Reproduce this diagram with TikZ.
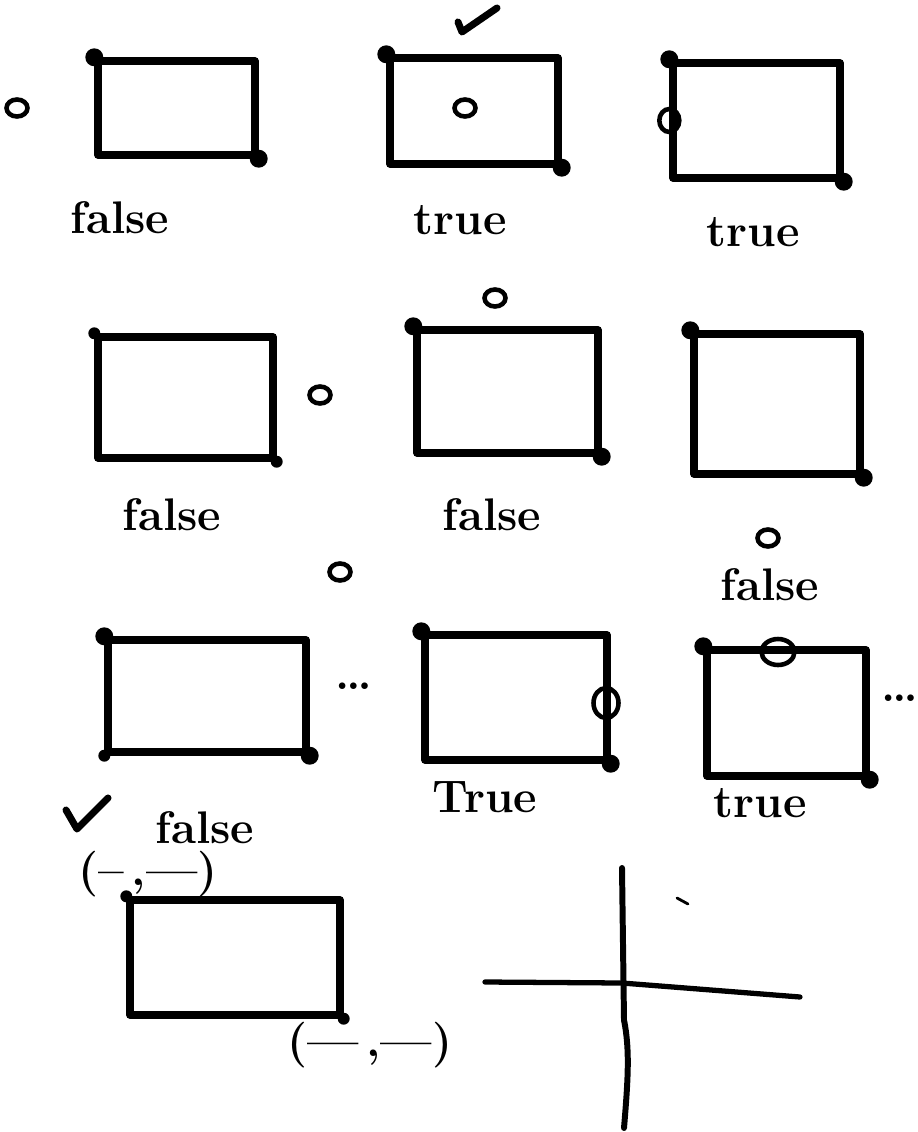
\documentclass[tikz,border=0pt]{standalone}
\usepackage{tikz}
\usetikzlibrary{
    positioning,
    fit,
    shapes.geometric
}

\begin{document}
\begin{tikzpicture}[
      x=0.02cm, y=-0.02cm,
      frame/.style={draw, line width=4.2pt, inner sep=0pt, line join=round},
      corner/.style={circle, fill, inner sep=0pt, minimum size=0.36cm},
      smallcorner/.style={corner, minimum size=0.24cm},
      pin/.style={ellipse, draw, line width=2.6pt, inner sep=0pt, minimum width=0.42cm, minimum height=0.34cm},
      hand/.style={font=\fontsize{26}{28}\selectfont\bfseries, inner sep=0pt},
      stroke/.style={line width=4pt, line cap=round, line join=round}
    ]
    \useasboundingbox (0,0) rectangle (918,1132);

    \node[frame, fit={(98,61)(255,155)}] (r1) {};
    \node[frame, fit={(390,58)(558,164)}] (r2) {};
    \node[frame, fit={(673,63)(840,178)}] (r3) {};
    \node[frame, fit={(98,337)(273,458)}] (r4) {};
    \node[frame, fit={(417,330)(598,453)}] (r5) {};
    \node[frame, fit={(694,334)(860,474)}] (r6) {};
    \node[frame, fit={(108,640)(306,752)}] (r7) {};
    \node[frame, fit={(425,635)(607,760)}] (r8) {};
    \node[frame, fit={(707,650)(866,776)}] (r9) {};
    \node[frame, fit={(130,900)(340,1015)}] (r10) {};

    \foreach \r in {r1,r2,r3,r5,r6,r7,r8,r9} {
      \node[corner] (\r-nw) at (\r.north west) {};
      \node[corner] (\r-se) at (\r.south east) {};
    }
    \foreach \r in {r4,r10} {
      \node[smallcorner] (\r-nw) at (\r.north west) {};
      \node[smallcorner] (\r-se) at (\r.south east) {};
    }
    \node[smallcorner] (r7-sw) at (r7.south west) {};

    \node[pin] (p1) at (17,108) {};
    \node[pin] (p2) at (465,108) {};
    \node[pin, minimum width=0.4cm, minimum height=0.46cm] (p3) at (r3.west) {};
    \node[pin] (p4) at (320,395) {};
    \node[pin] (p5) at (495,298) {};
    \node[pin] (p6) at (768,538) {};
    \node[pin] (p7) at (340,572) {};
    \node[pin, minimum width=0.5cm, minimum height=0.6cm] (p8) at (606,703) {};
    \node[pin, minimum width=0.66cm, minimum height=0.52cm] (p9) at (778,652) {};

    \node[hand] (l1) at (120,218) {false};
    \node[hand] (l2) at (460,220) {true};
    \node[hand] (l3) at (753,232) {true};
    \node[hand] (l4) at (172,515) {false};
    \node[hand] (l5) at (492,515) {false};
    \node[hand] (l6) at (770,585) {false};
    \node[hand] (l7) at (205,828) {false};
    \node[hand] (l8) at (485,797) {True};
    \node[hand] (l9) at (760,803) {true};

    \node[hand, font=\fontsize{26}{26}\selectfont\bfseries] (gap1) at (354,686) {\dots};
    \node[hand, font=\fontsize{26}{26}\selectfont\bfseries] (gap2) at (900,698) {\dots};

    \node[hand] (c1) at (148,874) {(--\,,---)};
    \node[hand] (c2) at (370,1045) {(---\,,---)};

    \draw[stroke] (458,22) -- (462,32) -- (497,8);
    \draw[stroke] (66,810) -- (77,829) -- (108,798);

    \coordinate (xl) at (485,982);
    \coordinate (xr) at (800,997);
    \coordinate (yt) at (622,868);
    \coordinate (yb) at (624,1128);
    \draw[stroke, line width=3pt] (xl) -- (622,983) -- (xr);
    \draw[stroke, line width=3.4pt] (yt) -- (624,1020) .. controls (630,1050) and (628,1080) .. (yb);
    \draw[stroke, line width=1.6pt] (677,898) -- (688,904);
  \end{tikzpicture}
\end{document}
